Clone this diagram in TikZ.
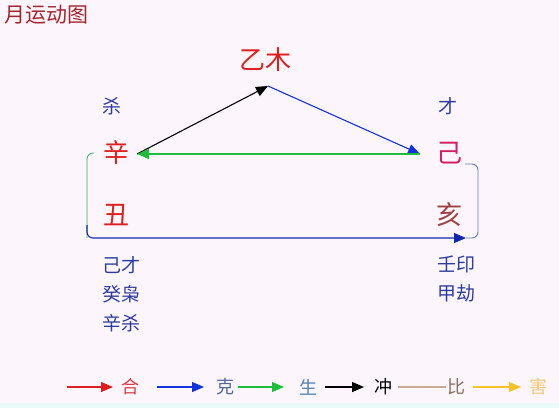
\documentclass[tikz,border=0pt]{standalone}
\usepackage{fontspec}
\setmainfont{Noto Sans CJK SC}
\usetikzlibrary{arrows.meta}
\definecolor{bg}{RGB}{252,246,252}
\definecolor{strip}{RGB}{232,250,248}
\definecolor{titlec}{RGB}{165,35,45}
\definecolor{redc}{RGB}{222,30,30}
\definecolor{magc}{RGB}{210,30,100}
\definecolor{brownc}{RGB}{160,65,65}
\definecolor{bluet}{RGB}{45,60,160}
\definecolor{bluea}{RGB}{20,50,220}
\definecolor{greena}{RGB}{30,190,60}
\definecolor{greyb}{RGB}{100,120,180}
\definecolor{tan}{RGB}{200,170,150}
\definecolor{gold}{RGB}{245,195,40}
\definecolor{hec}{RGB}{215,60,70}
\definecolor{kec}{RGB}{80,100,160}
\definecolor{shc}{RGB}{80,130,180}
\definecolor{bic}{RGB}{140,110,90}
\definecolor{haic}{RGB}{235,200,120}
\tikzset{
  big/.style={font=\fontsize{26pt}{28pt}\selectfont, inner sep=0pt},
  small/.style={font=\fontsize{19pt}{21pt}\selectfont, text=bluet, inner sep=0pt},
  leg/.style={font=\fontsize{18pt}{20pt}\selectfont, inner sep=0pt},
  arr/.style={line width=1.1pt, -{Triangle[length=12pt,width=10pt]}},
  conn/.style={line width=0.9pt, rounded corners=6pt}
}
\begin{document}
\begin{tikzpicture}[x=1pt,y=-1pt]
\fill[bg] (0,0) rectangle (559,408);
\fill[strip] (0,403) rectangle (559,408);
\useasboundingbox (0,0) rectangle (559,408);

\node[font=\fontsize{21pt}{23pt}\selectfont, text=titlec, anchor=west, inner sep=0pt] (title) at (4,15) {月运动图};

\node[big, text=redc] (yimu) at (265,60) {乙木};
\coordinate (apex) at (268,86);

\node[small] (sha) at (112,106) {杀};
\node[small] (cai) at (448,106) {才};

\node[big, text=redc] (xin) at (116,153) {辛};
\node[big, text=magc] (ji) at (449,153) {己};
\node[big, text=redc] (chou) at (116,215) {丑};
\node[big, text=brownc] (hai) at (449,215) {亥};

\coordinate (xinR) at (137,154);
\coordinate (jiL) at (420,154);
\coordinate (xinL) at (94,153);
\coordinate (blc) at (87,238);
\coordinate (haiA) at (466,238);
\coordinate (jiR) at (465,164);

\node[small] (l1) at (121,265) {己才};
\node[small] (l2) at (121,294) {癸枭};
\node[small] (l3) at (121,323) {辛杀};
\node[small] (r1) at (456,264) {壬印};
\node[small] (r2) at (456,293) {甲劫};

% main connectors
\draw[arr, black] (xinR) -- (apex);
\draw[arr, bluea] (apex) -- (jiL);
\draw[arr, greena] (jiL) -- (xinR);
\draw[conn, greena!70!gray, line width=0.8pt] (xinL) -| (blc);
\draw[arr, bluea!80!black, rounded corners=6pt] (87,225) |- (haiA);
\draw[conn, greyb] (jiR) -| (478,238) -- (haiA);

% legend
\coordinate (a1s) at (67,387); \coordinate (a1e) at (113,387);
\coordinate (a2s) at (157,387); \coordinate (a2e) at (204,387);
\coordinate (a3s) at (238,387); \coordinate (a3e) at (284,387);
\coordinate (a4s) at (325,387); \coordinate (a4e) at (364,387);
\coordinate (a5s) at (398,387); \coordinate (a5e) at (446,387);
\coordinate (a6s) at (473,387); \coordinate (a6e) at (521,387);
\draw[arr, redc] (a1s) -- (a1e);
\draw[arr, bluea] (a2s) -- (a2e);
\draw[arr, greena] (a3s) -- (a3e);
\draw[arr, black] (a4s) -- (a4e);
\draw[line width=1.1pt, tan] (a5s) -- (a5e);
\draw[arr, gold] (a6s) -- (a6e);
\node[leg, text=hec] (he) at (130,387) {合};
\node[leg, text=kec] (ke) at (225,387) {克};
\node[leg, text=shc] (sheng) at (308,387) {生};
\node[leg, text=black] (chong) at (383,387) {冲};
\node[leg, text=bic] (bi) at (456,387) {比};
\node[leg, text=haic] (haileg) at (538,387) {害};
\end{tikzpicture}
\end{document}
